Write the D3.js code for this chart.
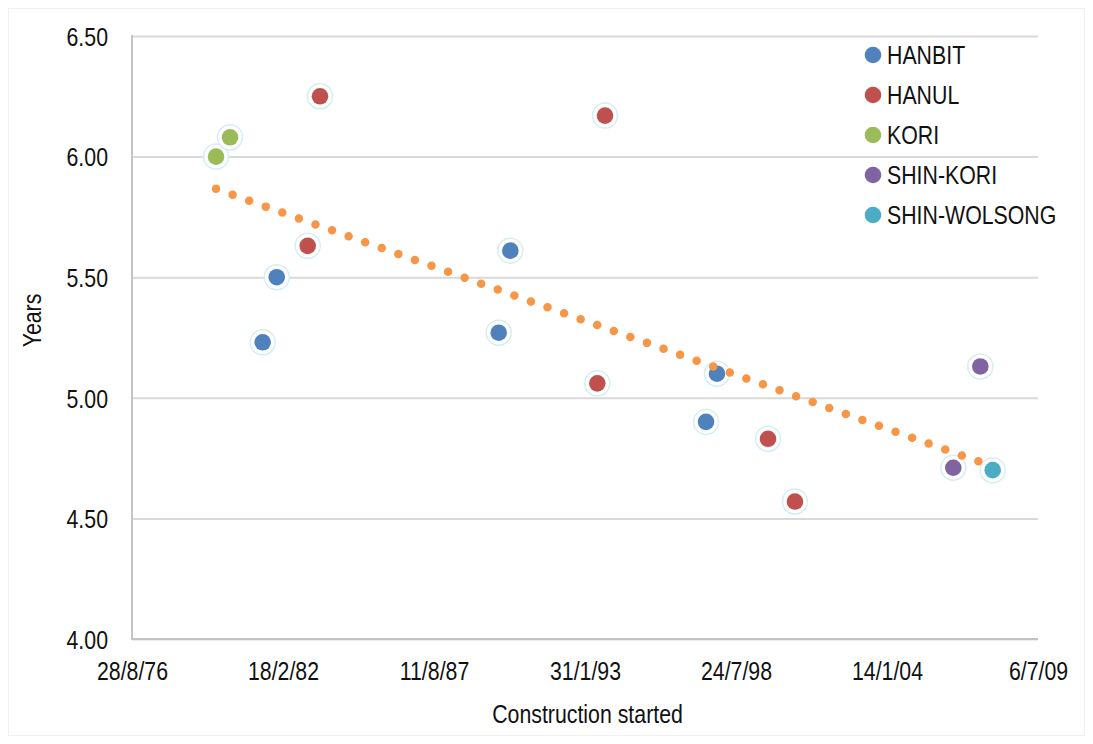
<!DOCTYPE html>
<html><head><meta charset="utf-8">
<script src="https://cdn.jsdelivr.net/npm/d3@7"></script>
<style>
body{margin:0;background:#fff;}
text{font-family:"Liberation Sans",Arial,sans-serif;fill:#111;}
</style></head><body>
<svg id="chart" width="1093" height="744"></svg>
<script>
// ---- data ----
const seriesNames  = ["HANBIT","HANUL","KORI","SHIN-KORI","SHIN-WOLSONG"];
const seriesColors = ["#4f81bd","#c0504d","#9bbb59","#8064a2","#4bacc6"];

const hanbitDates = ["1981-05-25","1981-11-27","1989-12-15","1990-05-18","1997-06-22","1997-11-14"];
const hanbitYears = [5.23,5.50,5.27,5.61,4.90,5.10];

const hanulDates = ["1983-01-11","1983-06-23","1993-07-13","1993-10-23","1999-09-21","2000-09-12"];
const hanulYears = [5.63,6.25,5.06,6.17,4.83,4.57];

const koriDates = ["1979-09-15","1980-03-18"];
const koriYears = [6.00,6.08];

const shinKoriDates = ["2006-06-10","2007-06-03"];
const shinKoriYears = [4.71,5.13];

const shinWolsongDates = ["2007-11-14"];
const shinWolsongYears = [4.70];

const yTicks = [4.00,4.50,5.00,5.50,6.00,6.50];
const xTickDates  = ["1976-08-28","1982-02-18","1987-08-11","1993-01-31","1998-07-24","2004-01-14","2009-07-06"];
const xTickLabels = ["28/8/76","18/2/82","11/8/87","31/1/93","24/7/98","14/1/04","6/7/09"];

const xTitle = "Construction started";
const yTitle = "Years";

// ---- build ----
const FS = 26, SX = 0.82;   // narrow look: Liberation Sans condensed horizontally
const parse = d3.utcParse("%Y-%m-%d");
const seriesDates = [hanbitDates, hanulDates, koriDates, shinKoriDates, shinWolsongDates];
const seriesYears = [hanbitYears, hanulYears, koriYears, shinKoriYears, shinWolsongYears];
const series = seriesNames.map((name,i)=>({
  name, color: seriesColors[i],
  points: seriesDates[i].map((d,j)=>({date: parse(d), value: seriesYears[i][j]}))
}));
const allPoints = series.flatMap(s=>s.points);

const svg = d3.select("#chart");
const L = 132, R = 1038, T = 36, B = 639;

svg.append("rect").attr("x",8.5).attr("y",8.5).attr("width",1076).attr("height",727)
  .attr("fill","#fff").attr("stroke","#f0f0f0");

const x = d3.scaleUtc().domain([parse(xTickDates[0]), parse(xTickDates[xTickDates.length-1])]).range([L,R]);
const y = d3.scaleLinear().domain([yTicks[0], yTicks[yTicks.length-1]]).range([B,T]);

function narrow(sel, tx, ty){
  sel.attr("x",null).attr("y",null).attr("dy",null)
     .attr("font-size",FS).attr("fill","#111")
     .attr("font-family",'"Liberation Sans",Arial,sans-serif')
     .attr("transform",`translate(${tx},${ty}) scale(${SX},1)`);
}

// y axis + gridlines
const yAxis = d3.axisLeft(y).tickValues(yTicks).tickSize(-(R-L)).tickFormat(d3.format(".2f"));
const gy = svg.append("g").attr("transform",`translate(${L},0)`).call(yAxis);
gy.select(".domain").remove();
gy.selectAll(".tick line").attr("stroke","#d9d9d9").attr("stroke-width",2);
gy.selectAll(".tick text").call(narrow,-24,9.3).attr("text-anchor","end");

// x axis
const xAxis = d3.axisBottom(x).tickValues(xTickDates.map(parse))
  .tickFormat((d,i)=>xTickLabels[i]).tickSize(0);
const gx = svg.append("g").attr("transform",`translate(0,${B})`).call(xAxis);
gx.select(".domain").remove();
gx.selectAll(".tick text").call(narrow,0,41).attr("text-anchor","middle");

// axis lines
svg.append("line").attr("x1",L).attr("x2",L).attr("y1",T-1).attr("y2",B+1)
  .attr("stroke","#c4c4c4").attr("stroke-width",2);
svg.append("line").attr("x1",L-1).attr("x2",R).attr("y1",B).attr("y2",B)
  .attr("stroke","#c4c4c4").attr("stroke-width",2);

// points
series.forEach(s=>{
  const g = svg.append("g");
  g.selectAll("circle.ring").data(s.points).join("circle").attr("class","ring")
    .attr("cx",d=>x(d.date)).attr("cy",d=>y(d.value)).attr("r",12.5)
    .attr("fill","#fff").attr("stroke","#d7edf4").attr("stroke-width",1.5);
  g.selectAll("circle.dot").data(s.points).join("circle").attr("class","dot")
    .attr("cx",d=>x(d.date)).attr("cy",d=>y(d.value)).attr("r",8.3)
    .attr("fill",s.color);
});

// linear trendline over all points
const xs = allPoints.map(p=>+p.date), ys = allPoints.map(p=>p.value);
const mx = d3.mean(xs), my = d3.mean(ys);
const slope = d3.sum(xs.map((v,i)=>(v-mx)*(ys[i]-my))) / d3.sum(xs.map(v=>(v-mx)*(v-mx)));
const icpt = my - slope*mx;
const [x0, x1] = d3.extent(xs);
const trend = [[x0, icpt+slope*x0],[x1, icpt+slope*x1]];
svg.append("path")
  .attr("d", d3.line().x(d=>x(new Date(d[0]))).y(d=>y(d[1]))(trend))
  .attr("stroke","#f79646").attr("stroke-width",8.5).attr("stroke-linecap","round")
  .attr("stroke-dasharray","0 17.6").attr("fill","none");

// legend
const lg = svg.append("g");
series.forEach((s,i)=>{
  const cy = 55 + i*40;
  lg.append("circle").attr("cx",873).attr("cy",cy).attr("r",8.3).attr("fill",s.color);
  lg.append("text").call(narrow,887,cy+9.3).text(s.name);
});

// axis titles
svg.append("text").call(narrow,587.5,723).attr("text-anchor","middle").text(xTitle);
svg.append("text").attr("font-size",FS).attr("text-anchor","middle")
  .attr("transform",`translate(41,320.5) rotate(-90) scale(${SX},1)`).text(yTitle);
</script>
</body></html>
